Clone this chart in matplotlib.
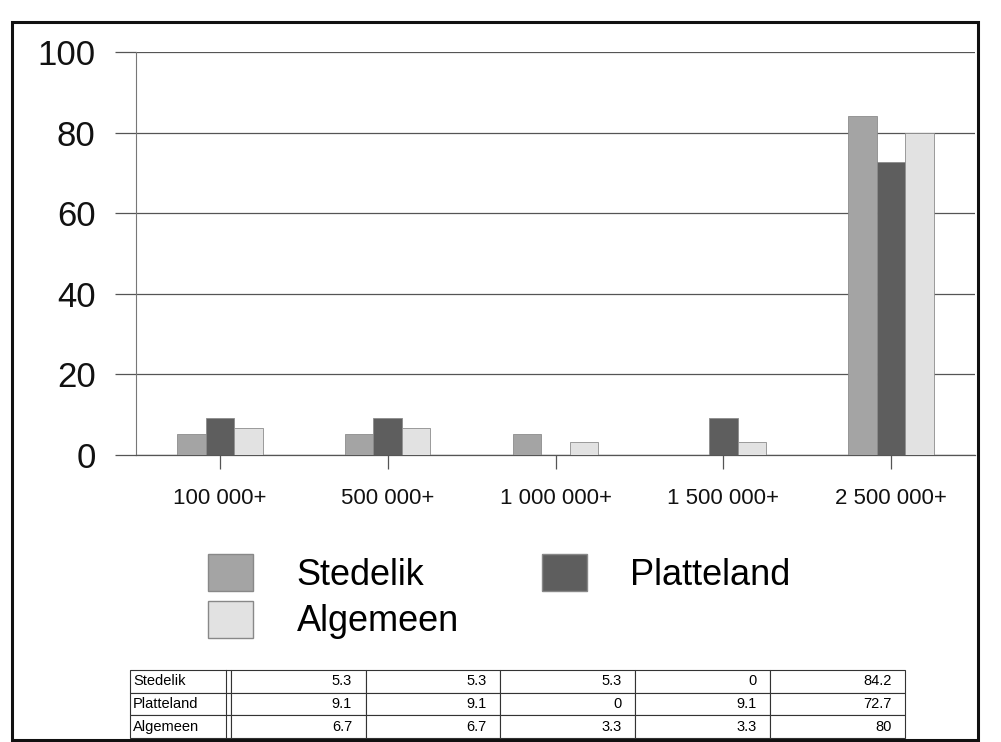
import matplotlib
matplotlib.use("Agg")
import matplotlib.pyplot as plt
from matplotlib.patches import Rectangle, Patch

categories = ["100 000+", "500 000+", "1 000 000+", "1 500 000+", "2 500 000+"]
series_names = ["Stedelik", "Platteland", "Algemeen"]
stedelik = [5.3, 5.3, 5.3, 0, 84.2]
platteland = [9.1, 9.1, 0, 9.1, 72.7]
algemeen = [6.7, 6.7, 3.3, 3.3, 80]
table_labels = (["5.3", "5.3", "5.3", "0", "84.2"],
                ["9.1", "9.1", "0", "9.1", "72.7"],
                ["6.7", "6.7", "3.3", "3.3", "80"])
y_ticks = [0, 20, 40, 60, 80, 100]

colors = ["#a4a4a4", "#5e5e5e", "#e2e2e2"]
values = [stedelik, platteland, algemeen]

plt.rcParams['font.family'] = ['Liberation Sans', 'DejaVu Sans']

W, H = 1001, 742
fig = plt.figure(figsize=(W / 100, H / 100), dpi=100)

def fx(px):
    return px / W

def fy(py):
    return 1 - py / H

ax = fig.add_axes([fx(136), fy(455), fx(975) - fx(136), fy(52) - fy(455)])
width = 0.17
x = list(range(len(categories)))
for i, (name, vals, c) in enumerate(zip(series_names, values, colors)):
    pos = [xi + (i - 1) * width for xi in x]
    ax.bar(pos, vals, width=width, color=c, edgecolor="#8c8c8c", linewidth=0.6,
           label=name, zorder=3)

ax.set_xlim(-0.5, 4.5)
ax.set_ylim(0, 100)
ax.set_yticks(y_ticks)
ax.set_yticklabels([str(v) for v in y_ticks], fontsize=25, color="#111111")
ax.set_xticks(x)
ax.set_xticklabels(categories, fontsize=16, color="#111111")
ax.grid(axis='y', color="#555555", linewidth=0.9, zorder=0)
for s in ["top", "right"]:
    ax.spines[s].set_visible(False)
ax.spines["left"].set_color("#777777")
ax.spines["left"].set_linewidth(0.8)
ax.spines["bottom"].set_color("#555555")
ax.spines["bottom"].set_linewidth(0.9)
ax.tick_params(axis='y', length=15, width=0.9, color="#555555", pad=14)
ax.tick_params(axis='x', length=10, width=0.9, color="#555555", pad=14)

handles = [Patch(facecolor=colors[0], edgecolor="#888888"),
           Patch(facecolor=colors[2], edgecolor="#888888"),
           Patch(facecolor=colors[1], edgecolor="#888888")]
labels = [series_names[0], series_names[2], series_names[1]]
fig.legend(handles, labels, loc='upper left', bbox_to_anchor=(fx(208), fy(554)),
           ncol=2, frameon=False, fontsize=26, handlelength=1.25, handleheight=1.2,
           handletextpad=1.2, columnspacing=2.3, labelspacing=0.22, borderpad=0,
           borderaxespad=0)

# data table
tax = fig.add_axes([fx(130), fy(738), fx(905) - fx(130), fy(670) - fy(738)])
tax.set_axis_off()
rows = [[r] + list(t) for r, t in zip(series_names, table_labels)]
tbl = tax.table(cellText=rows, bbox=[0, 0, 1, 1], cellLoc='right',
                colWidths=[0.13] + [0.174] * 5)
tbl.auto_set_font_size(False)
tbl.set_fontsize(10.5)
for (r, c), cell in tbl.get_celld().items():
    cell.set_linewidth(0.8)
    cell.set_edgecolor("#333333")
    if c == 0:
        cell.get_text().set_ha('left')
        cell._loc = 'left'
        cell.PAD = 0.03
tax.plot([0.124, 0.124], [0, 1], color="#333333", linewidth=0.8,
         transform=tax.transAxes, clip_on=False)

# outer frame
fig.patches.append(Rectangle((fx(12), fy(740)), fx(978) - fx(12), fy(22) - fy(740),
                             transform=fig.transFigure, fill=False, edgecolor="#111111",
                             linewidth=2.2))

fig.savefig("out.png", dpi=100, facecolor="white")
